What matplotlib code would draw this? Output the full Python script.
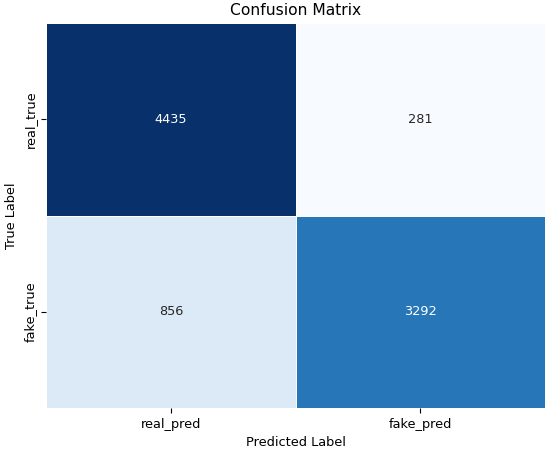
import numpy as np
import matplotlib
matplotlib.use("Agg")
import matplotlib.pyplot as plt
import seaborn as sns

x_labels = ["real_pred", "fake_pred"]
y_labels = ["real_true", "fake_true"]
cm = np.array([[4435, 281],
               [856, 3292]])

plt.rcParams["font.size"] = 9.3

fig, ax = plt.subplots(figsize=(5.5, 4.51), dpi=100)
sns.heatmap(cm, annot=True, fmt="d", cmap="Blues", cbar=False,
            xticklabels=x_labels, yticklabels=y_labels,
            linewidths=0.5, linecolor="white", ax=ax,
            annot_kws={"fontsize": 9.3})
ax.set_title("Confusion Matrix", fontsize=11.2)
ax.set_xlabel("Predicted Label")
ax.set_ylabel("True Label")
fig.subplots_adjust(left=0.084, right=0.991, top=0.949, bottom=0.095)
fig.savefig("out.png")
